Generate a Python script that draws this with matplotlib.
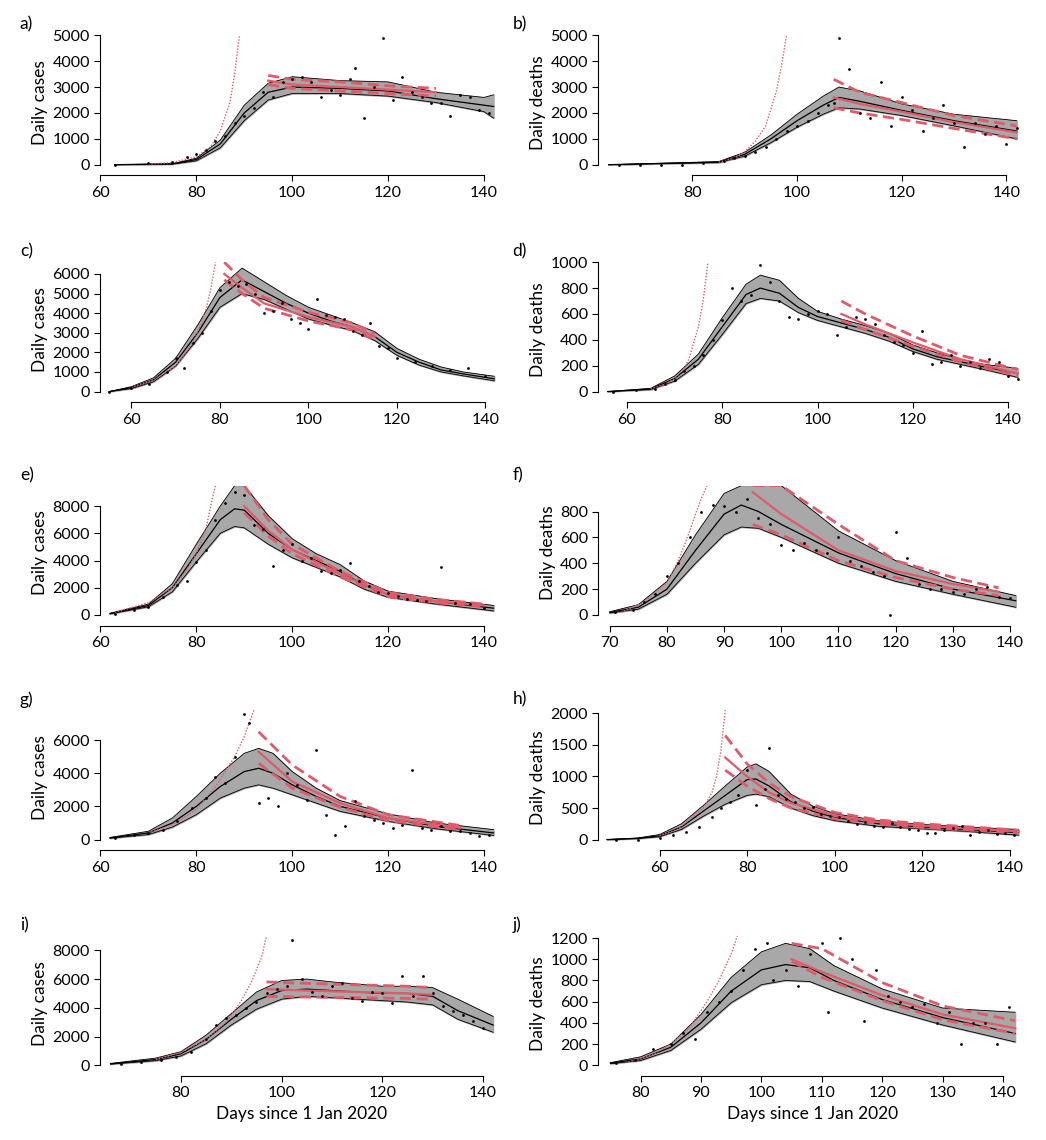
import matplotlib
matplotlib.use("Agg")
import matplotlib.pyplot as plt
import numpy as np

plt.rcParams['font.family'] = ['Lato', 'DejaVu Sans']

letters = ['a)', 'b)', 'c)', 'd)', 'e)', 'f)', 'g)', 'h)', 'i)', 'j)']
ylabels = ['Daily cases', 'Daily deaths'] * 5
xlims = [(63, 142), (64, 142), (55, 142), (56, 142), (62, 142), (70, 141), (62, 142), (48, 142), (66, 142), (75, 142)]
xticks = [[60, 80, 100, 120, 140], [80, 100, 120, 140], [60, 80, 100, 120, 140], [60, 80, 100, 120, 140],
          [60, 80, 100, 120, 140], [70, 80, 90, 100, 110, 120, 130, 140], [60, 80, 100, 120, 140],
          [60, 80, 100, 120, 140], [80, 100, 120, 140], [80, 90, 100, 110, 120, 130, 140]]
yticks = [list(range(0, 5001, 1000)), list(range(0, 5001, 1000)), list(range(0, 6001, 1000)),
          list(range(0, 1001, 200)), list(range(0, 8001, 2000)), list(range(0, 801, 200)),
          list(range(0, 6001, 2000)), list(range(0, 2001, 500)), list(range(0, 8001, 2000)),
          list(range(0, 1201, 200))]
ytop = [5000, 5000, 6600, 1000, 9500, 1000, 7800, 2050, 9000, 1220]

# black model: x, mean, lower, upper
mx = [
 [63, 75, 80, 85, 90, 95, 100, 110, 120, 130, 140, 142],
 [64, 85, 90, 95, 100, 105, 108, 112, 120, 130, 142],
 [55, 60, 65, 70, 75, 80, 85, 90, 95, 100, 105, 110, 115, 120, 125, 130, 135, 142],
 [56, 65, 70, 75, 80, 85, 88, 92, 96, 100, 105, 110, 115, 120, 125, 130, 135, 142],
 [62, 70, 75, 80, 85, 88, 90, 95, 100, 105, 110, 115, 120, 130, 142],
 [70, 75, 80, 85, 90, 93, 96, 100, 110, 120, 130, 141],
 [62, 70, 75, 80, 85, 90, 93, 96, 100, 105, 110, 120, 130, 142],
 [48, 55, 60, 65, 70, 75, 80, 82, 85, 90, 95, 100, 110, 120, 130, 142],
 [66, 75, 80, 85, 90, 95, 100, 105, 110, 120, 125, 130, 135, 142],
 [75, 80, 85, 90, 95, 100, 104, 108, 112, 120, 130, 142],
]
mm = [
 [0, 30, 200, 800, 2000, 2800, 3000, 2950, 2850, 2550, 2300, 2250],
 [0, 100, 400, 1000, 1700, 2300, 2600, 2450, 2100, 1700, 1300],
 [0, 200, 600, 1500, 3000, 4800, 5700, 5100, 4500, 4000, 3600, 3300, 2800, 2000, 1500, 1100, 900, 650],
 [0, 20, 100, 250, 500, 750, 800, 760, 650, 580, 530, 480, 420, 330, 270, 230, 190, 140],
 [100, 700, 2000, 4500, 7000, 7800, 7700, 6000, 4800, 4000, 3200, 2200, 1500, 1000, 500],
 [20, 60, 200, 500, 780, 850, 800, 700, 480, 320, 200, 110],
 [100, 400, 1000, 2000, 3200, 4100, 4300, 4000, 3300, 2600, 2000, 1300, 800, 400],
 [0, 20, 60, 200, 450, 700, 950, 960, 850, 600, 450, 350, 250, 200, 160, 110],
 [100, 400, 800, 1800, 3200, 4500, 5200, 5300, 5200, 5000, 5000, 4800, 3800, 2800],
 [20, 60, 170, 400, 700, 900, 950, 920, 800, 620, 450, 300],
]
mlo = [
 [0, 20, 150, 650, 1700, 2500, 2750, 2750, 2650, 2400, 2050, 1800],
 [0, 80, 330, 850, 1450, 1950, 2200, 2150, 1900, 1500, 1000],
 [0, 150, 500, 1300, 2700, 4300, 5000, 4700, 4200, 3700, 3400, 3100, 2600, 1850, 1350, 1000, 800, 550],
 [0, 15, 80, 210, 440, 680, 720, 700, 610, 550, 500, 450, 390, 310, 250, 210, 170, 110],
 [80, 600, 1700, 3900, 6000, 6500, 6400, 5200, 4200, 3500, 2800, 1900, 1300, 800, 300],
 [15, 45, 160, 400, 620, 680, 670, 600, 400, 260, 160, 60],
 [80, 300, 750, 1500, 2500, 3100, 3300, 3100, 2700, 2200, 1700, 1100, 650, 250],
 [0, 15, 45, 160, 370, 560, 700, 720, 680, 500, 380, 300, 210, 170, 130, 70],
 [80, 320, 650, 1500, 2800, 3900, 4600, 4800, 4700, 4500, 4400, 4200, 3200, 2300],
 [15, 45, 140, 340, 590, 760, 800, 790, 700, 540, 380, 220],
]
mhi = [
 [0, 40, 250, 950, 2300, 3150, 3400, 3250, 3200, 2800, 2600, 2700],
 [0, 120, 480, 1150, 1950, 2650, 3000, 2850, 2350, 1950, 1700],
 [0, 250, 700, 1700, 3400, 5300, 6300, 5600, 4900, 4300, 3900, 3500, 3050, 2200, 1650, 1250, 1000, 780],
 [0, 25, 120, 290, 570, 830, 900, 860, 720, 620, 560, 510, 450, 360, 300, 250, 210, 180],
 [130, 800, 2300, 5200, 8000, 9500, 9500, 7300, 5600, 4500, 3700, 2500, 1750, 1200, 700],
 [25, 80, 260, 620, 940, 1000, 1000, 1000, 650, 420, 260, 150],
 [130, 500, 1300, 2600, 4000, 5200, 5500, 5200, 4100, 3100, 2350, 1550, 1000, 600],
 [0, 25, 80, 250, 540, 850, 1150, 1200, 1080, 720, 530, 410, 300, 240, 200, 160],
 [130, 500, 950, 2100, 3600, 5100, 5900, 6000, 5800, 5500, 5500, 5400, 4600, 3400],
 [25, 80, 200, 480, 830, 1070, 1150, 1100, 940, 720, 540, 500],
]

# red fit: x, mean, lower, upper
rx = [
 [95, 100, 110, 120, 130], [107, 112, 120, 130, 142], [81, 85, 90, 100, 110, 115],
 [105, 110, 120, 130, 142], [90, 95, 100, 110, 120, 130, 140], [95, 100, 110, 120, 130, 138],
 [93, 100, 110, 120, 135], [75, 80, 85, 90, 100, 110, 120, 142], [97, 105, 115, 125, 130],
 [105, 110, 120, 130, 142],
]
rm = [
 [3250, 3100, 3000, 2900, 2800], [2600, 2350, 2050, 1650, 1250], [6000, 5300, 4500, 3800, 3300, 2800],
 [600, 520, 380, 250, 140], [8000, 6200, 4800, 3000, 1500, 1000, 700], [950, 780, 500, 340, 240, 180],
 [5300, 3500, 2200, 1300, 700], [1300, 1000, 750, 580, 380, 280, 220, 130], [5300, 5200, 5100, 5000, 4900],
 [1000, 880, 660, 480, 350],
]
rlo = [
 [3100, 2950, 2850, 2750, 2650], [2200, 2000, 1750, 1400, 1000], [5700, 5000, 4250, 3600, 3150, 2650],
 [550, 480, 350, 230, 120], [7500, 5800, 4500, 2800, 1350, 900, 600], [700, 620, 420, 290, 200, 150],
 [4600, 3100, 1950, 1150, 600], [1100, 850, 650, 500, 330, 250, 190, 110], [4800, 4750, 4700, 4650, 4600],
 [980, 830, 610, 430, 300],
]
rhi = [
 [3450, 3300, 3200, 3050, 2950], [3300, 2800, 2400, 1900, 1500], [6600, 5700, 4800, 4050, 3500, 2950],
 [700, 600, 430, 280, 170], [9500, 7000, 5200, 3200, 1650, 1150, 800], [1000, 1000, 700, 420, 290, 210],
 [6500, 4500, 2600, 1500, 850], [1650, 1200, 900, 680, 430, 310, 250, 150], [5800, 5700, 5600, 5500, 5400],
 [1150, 1100, 780, 560, 420],
]

# red dotted exponential
ex = [
 [70, 75, 80, 83, 85, 87, 88, 89], [85, 88, 90, 92, 94, 96, 97, 98], [60, 65, 70, 73, 75, 77, 78, 79],
 [65, 68, 70, 72, 73, 75, 76, 77], [63, 70, 75, 78, 80, 82, 83, 84], [72, 76, 80, 82, 84, 85, 86, 87],
 [70, 75, 80, 84, 88, 90, 91, 92], [60, 64, 67, 70, 72, 73, 74, 75], [75, 80, 85, 89, 92, 94, 96, 97],
 [78, 82, 85, 88, 91, 93, 95, 96],
]
ey = [
 [20, 80, 300, 700, 1300, 2400, 3500, 5000], [100, 250, 500, 900, 1500, 2800, 3800, 5000],
 [200, 600, 1300, 2200, 3000, 4300, 5300, 6600], [20, 55, 100, 180, 250, 500, 700, 1000],
 [200, 900, 2000, 3300, 4500, 6300, 8000, 9500], [20, 100, 250, 420, 650, 780, 900, 1000],
 [400, 900, 1800, 3200, 5000, 6200, 7000, 7800], [60, 160, 320, 500, 750, 1000, 1400, 2050],
 [400, 900, 1800, 3000, 4500, 5800, 7500, 9000], [30, 100, 200, 350, 600, 800, 1050, 1220],
]

# observed points
px = [
 [63, 70, 75, 78, 80, 82, 84, 86, 88, 90, 92, 94, 96, 98, 100, 102, 104, 106, 108, 110, 112, 113, 115, 117, 119, 121, 123, 125, 127, 129, 131, 133, 135, 137, 139, 141],
 [66, 70, 74, 78, 82, 86, 88, 90, 92, 94, 96, 98, 100, 102, 104, 106, 107, 108, 110, 112, 114, 116, 118, 120, 122, 124, 126, 128, 130, 132, 134, 136, 138, 140, 142],
 [55, 60, 64, 68, 70, 72, 74, 76, 78, 80, 82, 84, 86, 88, 90, 92, 94, 96, 98, 100, 102, 104, 106, 108, 110, 112, 114, 116, 118, 120, 124, 128, 132, 136, 140],
 [57, 62, 66, 68, 70, 72, 74, 76, 78, 80, 82, 84, 86, 88, 90, 92, 94, 96, 98, 100, 102, 104, 106, 108, 110, 112, 114, 116, 118, 120, 122, 124, 126, 128, 130, 132, 134, 136, 138, 140, 142],
 [63, 67, 70, 73, 76, 78, 80, 82, 84, 86, 88, 90, 92, 94, 96, 98, 100, 102, 104, 106, 108, 110, 112, 114, 116, 118, 120, 122, 124, 126, 128, 131, 134, 137, 140],
 [71, 74, 76, 78, 80, 82, 84, 86, 88, 90, 92, 94, 96, 98, 100, 102, 104, 106, 108, 110, 112, 114, 116, 118, 119, 120, 122, 124, 126, 128, 130, 132, 134, 136, 138, 140],
 [63, 67, 70, 73, 76, 79, 82, 84, 86, 88, 90, 91, 93, 95, 97, 99, 101, 103, 105, 107, 109, 111, 113, 115, 117, 119, 121, 123, 125, 127, 129, 131, 133, 135, 137, 139, 141],
 [50, 55, 60, 63, 66, 69, 72, 74, 76, 78, 80, 82, 84, 85, 87, 89, 91, 93, 95, 97, 99, 101, 103, 105, 107, 109, 111, 113, 115, 117, 119, 121, 123, 125, 127, 129, 131, 133, 135, 137, 139, 141],
 [68, 72, 76, 79, 82, 85, 87, 89, 91, 93, 95, 97, 99, 101, 102, 104, 106, 108, 110, 112, 114, 116, 118, 120, 122, 124, 126, 128, 130, 132, 134, 136, 138, 140],
 [76, 79, 82, 85, 87, 89, 91, 93, 95, 97, 99, 101, 102, 104, 106, 108, 110, 111, 113, 115, 117, 119, 121, 123, 125, 127, 129, 131, 133, 135, 137, 139, 141],
]
py = [
 [0, 50, 100, 300, 400, 550, 900, 1100, 1600, 1900, 2200, 2800, 2600, 3200, 3300, 3400, 3200, 2600, 2900, 2700, 3300, 3750, 1800, 3000, 4900, 2500, 3400, 2800, 2600, 2400, 2400, 1900, 2700, 2600, 2100, 2000],
 [0, 0, 0, 0, 60, 150, 250, 350, 500, 700, 1000, 1300, 1500, 1700, 2000, 2300, 2400, 4900, 3700, 2000, 1800, 3200, 1500, 2600, 2100, 1300, 1800, 2300, 1600, 700, 1600, 1200, 1500, 800, 1400],
 [0, 200, 400, 1000, 1700, 1200, 2500, 3000, 4100, 5200, 5600, 5400, 5500, 5000, 4000, 4100, 4500, 3700, 3500, 3200, 4700, 3900, 3800, 3700, 3100, 2900, 3500, 2300, 2200, 1700, 1500, 1300, 1100, 1200, 800],
 [0, 10, 20, 60, 90, 160, 200, 280, 400, 550, 800, 700, 750, 980, 850, 700, 580, 560, 600, 620, 600, 440, 500, 580, 560, 520, 440, 380, 360, 300, 470, 210, 230, 280, 200, 230, 180, 250, 230, 120, 100],
 [100, 400, 600, 1300, 2200, 2500, 3900, 4800, 7000, 8200, 9000, 8800, 6600, 6300, 3600, 4800, 5200, 4000, 4200, 3200, 3100, 3300, 3800, 2500, 2100, 1700, 1600, 1400, 1200, 1100, 1000, 3500, 900, 800, 500],
 [20, 40, 100, 160, 300, 400, 600, 800, 850, 840, 800, 900, 750, 700, 540, 500, 560, 500, 480, 600, 420, 380, 330, 300, 0, 640, 440, 240, 200, 200, 180, 160, 200, 220, 140, 130],
 [100, 250, 400, 600, 1100, 1900, 2500, 3800, 3400, 5000, 7600, 7000, 2200, 2500, 2000, 4000, 3300, 2400, 5400, 1500, 300, 800, 2300, 1400, 1200, 1000, 700, 900, 4200, 700, 600, 800, 500, 500, 400, 200, 300],
 [0, 0, 20, 70, 120, 200, 350, 500, 600, 700, 1100, 550, 800, 1450, 700, 650, 600, 500, 520, 400, 380, 350, 300, 250, 280, 220, 200, 260, 200, 170, 150, 110, 100, 150, 180, 220, 80, 120, 150, 90, 110, 80],
 [100, 250, 400, 600, 900, 1800, 2800, 3300, 3500, 4000, 4400, 5000, 5300, 5500, 8700, 6000, 5100, 4800, 5500, 5700, 4700, 4500, 5100, 5000, 4300, 6200, 4800, 6200, 5000, 4100, 3800, 3500, 3100, 2600],
 [20, 50, 150, 200, 300, 250, 500, 600, 700, 900, 1100, 1150, 800, 900, 750, 1050, 1150, 500, 1200, 1000, 420, 900, 650, 600, 550, 580, 400, 500, 200, 400, 400, 200, 550],
]

red = '#e05a6a'
fig = plt.figure(figsize=(10.46, 11.4), dpi=100)
lefts = [0.096, 0.572]
w = [0.385, 0.41]
bottoms = [0.851, 0.652, 0.456, 0.259, 0.061]
h = 0.118

for i in range(10):
    r, c = divmod(i, 2)
    ax = fig.add_axes([lefts[c], bottoms[r], w[c], h])
    ax.fill_between(mx[i], mlo[i], mhi[i], color='#a8a8a8', zorder=1)
    ax.plot(mx[i], mlo[i], color='black', lw=0.6, zorder=2)
    ax.plot(mx[i], mhi[i], color='black', lw=0.6, zorder=2)
    ax.plot(mx[i], mm[i], color='black', lw=0.9, zorder=2)
    ax.plot(ex[i], ey[i], color=red, lw=1.0, ls=(0, (1, 1.2)), zorder=3)
    ax.plot(rx[i], rm[i], color=red, lw=1.6, zorder=4)
    ax.plot(rx[i], rlo[i], color=red, lw=2.0, ls=(0, (4, 2)), zorder=4)
    ax.plot(rx[i], rhi[i], color=red, lw=2.0, ls=(0, (4, 2)), zorder=4)
    ax.scatter(px[i], py[i], s=4, color='black', zorder=5, linewidths=0)
    ax.set_xlim(xlims[i][0] - 2, xlims[i][1] + 2)
    ax.set_ylim(-ytop[i] * 0.04, ytop[i])
    ax.set_xticks(xticks[i])
    ax.set_yticks(yticks[i])
    for s in ['top', 'right']:
        ax.spines[s].set_visible(False)
    ax.spines['bottom'].set_bounds(xticks[i][0], xticks[i][-1])
    ax.spines['left'].set_bounds(yticks[i][0], yticks[i][-1])
    ax.spines['bottom'].set_position(('outward', 4))
    ax.tick_params(labelsize=11.5, length=4, direction='out')
    ax.set_ylabel(ylabels[i], fontsize=12.5, labelpad=3)
    ax.text(-0.2, 1.08, letters[i], transform=ax.transAxes, fontsize=12.5, va='center')
    if r == 4:
        ax.set_xlabel('Days since 1 Jan 2020', fontsize=12.5)

fig.savefig('out.png', dpi=100)
